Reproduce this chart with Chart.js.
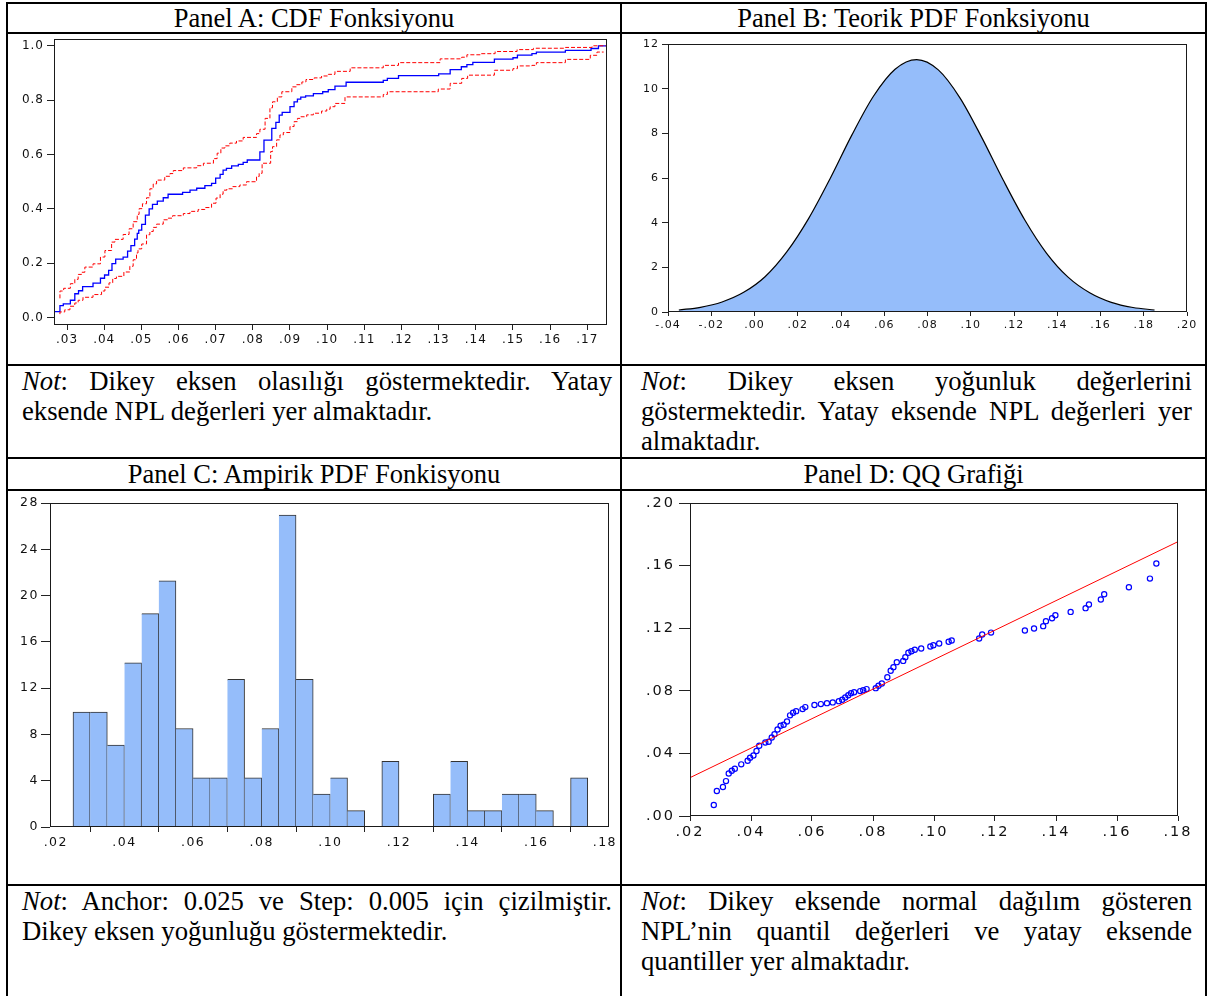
<!DOCTYPE html>
<html>
<head>
<meta charset="utf-8">
<script src="https://cdn.jsdelivr.net/npm/chart.js@4.4.1/dist/chart.umd.min.js"></script>
<style>
  body { margin: 0; background: #fff; }
  #page { position: relative; width: 1208px; height: 996px; overflow: hidden; background: #fff;
          font-family: "Liberation Serif", "Times New Roman", serif; color: #000; }
  .hl { position: absolute; left: 6px; width: 1201px; height: 2px; background: #000; }
  .vl { position: absolute; top: 2px; width: 2px; height: 994px; background: #000; }
  .title { position: absolute; text-align: center; font-size: 26.5px; }
  .note { position: absolute; font-size: 26.7px; line-height: 30px; }
  .note div { text-align: justify; text-align-last: justify; }
  .note div.last { text-align-last: left; }
  canvas { position: absolute; }
</style>
</head>
<body>
<div id="page">
  <div class="hl" style="top:2px"></div>
  <div class="hl" style="top:32px"></div>
  <div class="hl" style="top:364px"></div>
  <div class="hl" style="top:457px"></div>
  <div class="hl" style="top:489px"></div>
  <div class="hl" style="top:884px"></div>
  <div class="vl" style="left:6px"></div>
  <div class="vl" style="left:620px"></div>
  <div class="vl" style="left:1205px"></div>

  <div class="title" style="left:8px;width:612px;top:4px;line-height:28px">Panel A: CDF Fonksiyonu</div>
  <div class="title" style="left:622px;width:583px;top:4px;line-height:28px">Panel B: Teorik PDF Fonksiyonu</div>
  <div class="title" style="left:8px;width:612px;top:459px;line-height:30px">Panel C: Ampirik PDF Fonkisyonu</div>
  <div class="title" style="left:622px;width:583px;top:459px;line-height:30px">Panel D: QQ Grafiği</div>

  <div class="note" style="left:22px;width:590px;top:366px">
    <div><i>Not</i>: Dikey eksen olasılığı göstermektedir. Yatay</div>
    <div class="last">eksende NPL değerleri yer almaktadır.</div>
  </div>
  <div class="note" style="left:641px;width:551px;top:366px">
    <div><i>Not</i>: Dikey eksen yoğunluk değerlerini</div>
    <div>göstermektedir. Yatay eksende NPL değerleri yer</div>
    <div class="last">almaktadır.</div>
  </div>
  <div class="note" style="left:22px;width:590px;top:886px">
    <div><i>Not</i>: Anchor: 0.025 ve Step: 0.005 için çizilmiştir.</div>
    <div class="last">Dikey eksen yoğunluğu göstermektedir.</div>
  </div>
  <div class="note" style="left:641px;width:551px;top:886px">
    <div><i>Not</i>: Dikey eksende normal dağılım gösteren</div>
    <div>NPL’nin quantil değerleri ve yatay eksende</div>
    <div class="last">quantiller yer almaktadır.</div>
  </div>

  <canvas id="chartA" width="612" height="330" style="left:8px;top:34px"></canvas>
  <canvas id="chartB" width="583" height="330" style="left:622px;top:34px"></canvas>
  <canvas id="chartC" width="612" height="393" style="left:8px;top:491px"></canvas>
  <canvas id="chartD" width="583" height="393" style="left:622px;top:491px"></canvas>
</div>

<script>
// Panel A: empirical CDF (blue) and confidence band (red dashed)
const cdfX = [0.0265, 0.0281, 0.0290, 0.0309, 0.0321, 0.0331, 0.0342, 0.0370, 0.0390, 0.0401, 0.0412, 0.0421,
  0.0431, 0.0451, 0.0463, 0.0472, 0.0482, 0.0489, 0.0493, 0.0501, 0.0511, 0.0521, 0.0530, 0.0543, 0.0559,
  0.0572, 0.0611, 0.0631, 0.0649, 0.0671, 0.0689, 0.0700, 0.0712, 0.0720, 0.0729, 0.0743, 0.0761, 0.0774,
  0.0785, 0.0819, 0.0830, 0.0851, 0.0862, 0.0871, 0.0879, 0.0900, 0.0911, 0.0920, 0.0929, 0.0942, 0.0963,
  0.0988, 0.1003, 0.1021, 0.1051, 0.1151, 0.1162, 0.1192, 0.1300, 0.1331, 0.1361, 0.1376, 0.1392, 0.1450,
  0.1500, 0.1512, 0.1551, 0.1563, 0.1641, 0.1710, 0.1730, 0.1740, 0.1753];
const cdfY = [0, 0.022, 0.044, 0.051, 0.064, 0.088, 0.099, 0.114, 0.127, 0.145, 0.157, 0.174,
  0.199, 0.215, 0.223, 0.245, 0.265, 0.289, 0.310, 0.322, 0.343, 0.377, 0.400, 0.417, 0.429,
  0.441, 0.454, 0.461, 0.469, 0.476, 0.486, 0.494, 0.513, 0.527, 0.543, 0.549, 0.558, 0.564,
  0.571, 0.580, 0.610, 0.653, 0.696, 0.718, 0.745, 0.755, 0.776, 0.794, 0.804, 0.811, 0.816,
  0.824, 0.831, 0.839, 0.852, 0.866, 0.873, 0.880, 0.890, 0.897, 0.912, 0.923, 0.931, 0.939,
  0.951, 0.956, 0.966, 0.971, 0.977, 0.983, 0.990, 1.0, 1.0];

const upperX = [0.0281, 0.0291, 0.0309, 0.0321, 0.0330, 0.0339, 0.0348, 0.0370, 0.0390, 0.0402, 0.0420, 0.0429,
  0.0451, 0.0467, 0.0478, 0.0489, 0.0494, 0.0503, 0.0514, 0.0523, 0.0532, 0.0541, 0.0563, 0.0577, 0.0586,
  0.0613, 0.0649, 0.0667, 0.0694, 0.0704, 0.0714, 0.0725, 0.0738, 0.0756, 0.0774, 0.0810, 0.0819, 0.0833,
  0.0846, 0.0853, 0.0866, 0.0878, 0.0905, 0.0918, 0.0932, 0.0943, 0.0965, 0.0985, 0.1003, 0.1021, 0.1062,
  0.1151, 0.1192, 0.1304, 0.1362, 0.1376, 0.1412, 0.1452, 0.1511, 0.1555, 0.1641, 0.1713, 0.1744, 0.1753];
const upperY = [0.071, 0.098, 0.108, 0.125, 0.141, 0.159, 0.167, 0.186, 0.198, 0.223, 0.247, 0.278,
  0.288, 0.306, 0.327, 0.353, 0.380, 0.401, 0.419, 0.441, 0.474, 0.492, 0.506, 0.520, 0.530,
  0.541, 0.551, 0.559, 0.568, 0.585, 0.605, 0.624, 0.632, 0.642, 0.650, 0.663, 0.677, 0.693,
  0.733, 0.772, 0.794, 0.812, 0.831, 0.849, 0.857, 0.867, 0.876, 0.882, 0.889, 0.895, 0.906,
  0.919, 0.928, 0.938, 0.952, 0.958, 0.967, 0.971, 0.979, 0.986, 0.991, 0.994, 1.0, 1.0];

const lowerX = [0.0281, 0.0294, 0.0308, 0.0321, 0.0330, 0.0343, 0.0370, 0.0393, 0.0402, 0.0413, 0.0423, 0.0433,
  0.0453, 0.0469, 0.0478, 0.0487, 0.0491, 0.0501, 0.0514, 0.0523, 0.0532, 0.0541, 0.0559, 0.0572, 0.0584,
  0.0613, 0.0631, 0.0653, 0.0671, 0.0689, 0.0701, 0.0712, 0.0720, 0.0730, 0.0746, 0.0765, 0.0783, 0.0810,
  0.0817, 0.0825, 0.0848, 0.0853, 0.0864, 0.0873, 0.0882, 0.0900, 0.0911, 0.0920, 0.0929, 0.0945, 0.0963,
  0.0985, 0.0999, 0.1008, 0.1021, 0.1048, 0.1151, 0.1162, 0.1299, 0.1331, 0.1362, 0.1378, 0.1450, 0.1500,
  0.1512, 0.1551, 0.1563, 0.1641, 0.1708, 0.1726, 0.1735, 0.1744];
const lowerY = [0.013, 0.021, 0.029, 0.042, 0.054, 0.064, 0.075, 0.085, 0.098, 0.112, 0.128, 0.144,
  0.152, 0.168, 0.189, 0.213, 0.238, 0.253, 0.271, 0.305, 0.317, 0.332, 0.344, 0.360, 0.366,
  0.375, 0.383, 0.391, 0.398, 0.405, 0.421, 0.440, 0.454, 0.469, 0.474, 0.482, 0.488, 0.500,
  0.519, 0.531, 0.568, 0.611, 0.629, 0.654, 0.672, 0.681, 0.703, 0.721, 0.733, 0.739, 0.746,
  0.752, 0.760, 0.767, 0.776, 0.788, 0.812, 0.821, 0.831, 0.841, 0.862, 0.880, 0.892, 0.910,
  0.916, 0.926, 0.928, 0.938, 0.950, 0.965, 0.977, 0.977];

const cdfXTicks = [0.03, 0.04, 0.05, 0.06, 0.07, 0.08, 0.09, 0.10, 0.11, 0.12, 0.13, 0.14, 0.15, 0.16, 0.17];
const cdfYTicks = [0, 0.2, 0.4, 0.6, 0.8, 1.0];

// Panel B: theoretical normal density
const pdfX = [-0.035, -0.025, -0.015, -0.005, 0.005, 0.015, 0.025, 0.035, 0.045, 0.055, 0.065, 0.075,
  0.085, 0.095, 0.105, 0.115, 0.125, 0.135, 0.145, 0.155, 0.165, 0.175, 0.185];
const pdfY = [0.09, 0.21, 0.45, 0.88, 1.59, 2.7, 4.18, 5.98, 7.92, 9.66, 10.87, 11.3,
  10.84, 9.59, 7.83, 5.91, 4.12, 2.64, 1.56, 0.86, 0.43, 0.2, 0.09];
const pdfXTicks = [-0.04, -0.02, 0, 0.02, 0.04, 0.06, 0.08, 0.10, 0.12, 0.14, 0.16, 0.18, 0.20];
const pdfYTicks = [0, 2, 4, 6, 8, 10, 12];

// Panel C: histogram (anchor 0.025, step 0.005), bin centres and densities
const histCenters = [0.0275, 0.0325, 0.0375, 0.0425, 0.0475, 0.0525, 0.0575, 0.0625, 0.0675, 0.0725,
  0.0775, 0.0825, 0.0875, 0.0925, 0.0975, 0.1025, 0.1075, 0.1125, 0.1175, 0.1225,
  0.1275, 0.1325, 0.1375, 0.1425, 0.1475, 0.1525, 0.1575, 0.1625, 0.1675, 0.1725];
const histDensity = [9.93, 9.93, 7.09, 14.18, 18.44, 21.28, 8.51, 4.26, 4.26, 12.77,
  4.26, 8.51, 26.95, 12.77, 2.84, 4.26, 1.42, 0, 5.67, 0,
  0, 2.84, 5.67, 1.42, 1.42, 2.84, 2.84, 1.42, 0, 4.26];
const histXTicks = [0.02, 0.04, 0.06, 0.08, 0.10, 0.12, 0.14, 0.16, 0.18];
const histYTicks = [0, 4, 8, 12, 16, 20, 24, 28];

// Panel D: QQ points and reference line
const qqX = [0.0278, 0.0288, 0.0308, 0.0318, 0.0327, 0.0337, 0.0347, 0.0368, 0.0389, 0.0397, 0.0408, 0.0418,
  0.0427, 0.0447, 0.0458, 0.0468, 0.0477, 0.0487, 0.0497, 0.0507, 0.0518, 0.0528, 0.0538, 0.0548, 0.0569,
  0.0578, 0.0608, 0.0629, 0.0649, 0.0668, 0.0688, 0.0699, 0.0709, 0.0719, 0.0728, 0.0738, 0.0758, 0.0768,
  0.0779, 0.0809, 0.0818, 0.0829, 0.0847, 0.0858, 0.0867, 0.0878, 0.0899, 0.0906, 0.0916, 0.0926, 0.0937,
  0.0958, 0.0988, 0.0998, 0.1017, 0.1048, 0.1058, 0.1148, 0.1158, 0.1187, 0.1298, 0.1328, 0.1358, 0.1367,
  0.1387, 0.1398, 0.1448, 0.1497, 0.1508, 0.1547, 0.1558, 0.1639, 0.1708, 0.1729];
const qqY = [0.0070, 0.0160, 0.0185, 0.0223, 0.0272, 0.0289, 0.0302, 0.0330, 0.0353, 0.0372, 0.0387, 0.0415,
  0.0449, 0.0470, 0.0474, 0.0502, 0.0523, 0.0553, 0.0577, 0.0583, 0.0604, 0.0643, 0.0660, 0.0670, 0.0683,
  0.0696, 0.0709, 0.0715, 0.0721, 0.0726, 0.0734, 0.0743, 0.0757, 0.0772, 0.0785, 0.0791, 0.0798, 0.0804,
  0.0811, 0.0817, 0.0832, 0.0847, 0.0887, 0.0928, 0.0951, 0.0983, 0.0991, 0.1015, 0.1043, 0.1053, 0.1062,
  0.1070, 0.1083, 0.1091, 0.1102, 0.1113, 0.1121, 0.1134, 0.1160, 0.1172, 0.1185, 0.1198, 0.1213, 0.1245,
  0.1264, 0.1283, 0.1304, 0.1328, 0.1351, 0.1383, 0.1417, 0.1462, 0.1517, 0.1613];
const qqLineX = [0.02, 0.18];
const qqLineY = [0.0245, 0.1753];
const qqXTicks = [0.02, 0.04, 0.06, 0.08, 0.10, 0.12, 0.14, 0.16, 0.18];
const qqYTicks = [0, 0.04, 0.08, 0.12, 0.16, 0.20];

// ---------- helpers ----------
const AXIS_H = 30;

function pairs(xs, ys) {
  return xs.map((x, i) => ({ x: x, y: ys[i] }));
}

// ".03", "-.04", ".00"
function dotFmt(v) {
  return v.toFixed(2).replace(/^(-?)0\./, '$1.');
}

// the y axis box takes the whole strip left of the plot (labels are clipped to it),
// so only top/right/bottom need padding
function place(canvas, plot) {
  const cl = parseFloat(canvas.style.left), ct = parseFloat(canvas.style.top);
  return {
    axisW: plot[0] - cl,
    padding: {
      left: 0,
      top: plot[1] - ct,
      right: cl + canvas.width - plot[2],
      bottom: ct + canvas.height - plot[3] - AXIS_H
    }
  };
}

function xAxis(min, max, ticks, fmt, font, tickLen, pad) {
  return {
    type: 'linear', min: min, max: max,
    afterBuildTicks: s => { s.ticks = ticks.map(v => ({ value: v })); },
    afterFit: s => { s.height = AXIS_H; s.paddingLeft = 0; s.paddingRight = 0; },
    ticks: { callback: fmt, font: font, color: '#111', padding: pad, maxRotation: 0, autoSkip: false },
    grid: { display: true, drawOnChartArea: false, drawTicks: true, tickLength: tickLen, tickColor: '#222', tickWidth: 1 },
    border: { display: false }
  };
}

function yAxis(width, min, max, ticks, fmt, font, tickLen, pad) {
  return {
    type: 'linear', min: min, max: max,
    afterBuildTicks: s => { s.ticks = ticks.map(v => ({ value: v })); },
    afterFit: s => { s.width = width; s.paddingTop = 0; s.paddingBottom = 0; },
    ticks: { callback: fmt, font: font, color: '#111', padding: pad, autoSkip: false },
    grid: { display: true, drawOnChartArea: false, drawTicks: true, tickLength: tickLen, tickColor: '#222', tickWidth: 1 },
    border: { display: false }
  };
}

// black box around the plot area
const framePlugin = {
  id: 'frame',
  afterDatasetsDraw(chart) {
    const a = chart.chartArea, ctx = chart.ctx;
    ctx.save();
    ctx.strokeStyle = '#1a1a1a';
    ctx.lineWidth = 1;
    ctx.strokeRect(Math.round(a.left) + 0.5, Math.round(a.top) + 0.5,
      Math.round(a.right - a.left) - 1, Math.round(a.bottom - a.top) - 1);
    ctx.restore();
  }
};

// the tick labels of the original are drawn wide; letter spacing imitates that
const spacingPlugin = {
  id: 'spacing',
  beforeInit(chart, args, opts) { chart.ctx.letterSpacing = opts.value || '0px'; },
  beforeUpdate(chart, args, opts) { chart.ctx.letterSpacing = opts.value || '0px'; },
  beforeDraw(chart, args, opts) { chart.ctx.letterSpacing = opts.value || '0px'; }
};

Chart.register(framePlugin, spacingPlugin);

function opts(padding, spacing, scales) {
  return {
    responsive: false,
    devicePixelRatio: 1,
    animation: false,
    layout: { padding: padding },
    plugins: { legend: { display: false }, tooltip: { enabled: false }, spacing: { value: spacing } },
    scales: scales
  };
}

const sans = 'DejaVu Sans, Verdana, sans-serif';

// ---------- Panel A ----------
const cA = document.getElementById('chartA');
const pA = place(cA, [54, 39, 607, 325]);
new Chart(cA, {
  type: 'line',
  data: {
    datasets: [
      { data: pairs(upperX, upperY), borderColor: '#ff0000', borderWidth: 1, borderDash: [4, 2], stepped: 'after', pointRadius: 0, fill: false },
      { data: pairs(lowerX, lowerY), borderColor: '#ff0000', borderWidth: 1, borderDash: [4, 2], stepped: 'after', pointRadius: 0, fill: false },
      { data: pairs(cdfX, cdfY), borderColor: '#0000ff', borderWidth: 1.3, stepped: 'after', pointRadius: 0, fill: false }
    ]
  },
  options: opts(pA.padding, '1px', {
    x: xAxis(0.0265, 0.1753, cdfXTicks, dotFmt, { family: sans, size: 12 }, 5, 3),
    y: yAxis(pA.axisW, -0.027, 1.025, cdfYTicks, v => v.toFixed(1), { family: sans, size: 12 }, 7, 3)
  })
});

// ---------- Panel B ----------
const cB = document.getElementById('chartB');
const pB = place(cB, [668, 44, 1187, 312]);
new Chart(cB, {
  type: 'line',
  data: {
    datasets: [
      { data: pairs(pdfX, pdfY), borderColor: '#000', borderWidth: 1.2, backgroundColor: '#95bdfa',
        fill: 'origin', cubicInterpolationMode: 'monotone', pointRadius: 0 }
    ]
  },
  options: opts(pB.padding, '1px', {
    x: xAxis(-0.04, 0.20, pdfXTicks, dotFmt, { family: sans, size: 11 }, 4, 3),
    y: yAxis(pB.axisW, 0, 12, pdfYTicks, v => String(v), { family: sans, size: 11 }, 6, 3)
  })
});

// ---------- Panel C ----------
const cC = document.getElementById('chartC');
const pC = place(cC, [50, 503, 609, 827]);
new Chart(cC, {
  type: 'bar',
  data: {
    datasets: [
      { data: pairs(histCenters, histDensity), backgroundColor: '#95bdfa', borderColor: '#333',
        borderWidth: ctx => ({ top: 1, right: 1, bottom: 0,
          left: (ctx.dataIndex > 0 && histDensity[ctx.dataIndex - 1] > 0) ? 0 : 1 }),
        borderSkipped: false, barPercentage: 1, categoryPercentage: 1 }
    ]
  },
  options: opts(pC.padding, '1.5px', {
    x: Object.assign(xAxis(0.0183, 0.1812, histXTicks, dotFmt, { family: sans, size: 12.5 }, 5, 3), { offset: false }),
    y: yAxis(pC.axisW, 0, 28, histYTicks, v => String(v), { family: sans, size: 12.5 }, 9, 2)
  })
});

// ---------- Panel D ----------
const cD = document.getElementById('chartD');
const pD = place(cD, [690, 503, 1178, 816]);
new Chart(cD, {
  type: 'scatter',
  data: {
    datasets: [
      { type: 'line', data: pairs(qqLineX, qqLineY), borderColor: '#ff0000', borderWidth: 1, pointRadius: 0, fill: false },
      { data: pairs(qqX, qqY), pointStyle: 'circle', pointRadius: 2.6, pointBorderWidth: 1.2,
        pointBorderColor: '#0000ff', pointBackgroundColor: 'rgba(0,0,0,0)', showLine: false }
    ]
  },
  options: opts(pD.padding, '2px', {
    x: xAxis(0.02, 0.18, qqXTicks, dotFmt, { family: sans, size: 14.5 }, 5, 3),
    y: yAxis(pD.axisW, 0, 0.20, qqYTicks, dotFmt, { family: sans, size: 14.5 }, 11, 4)
  })
});
</script>
</body>
</html>
